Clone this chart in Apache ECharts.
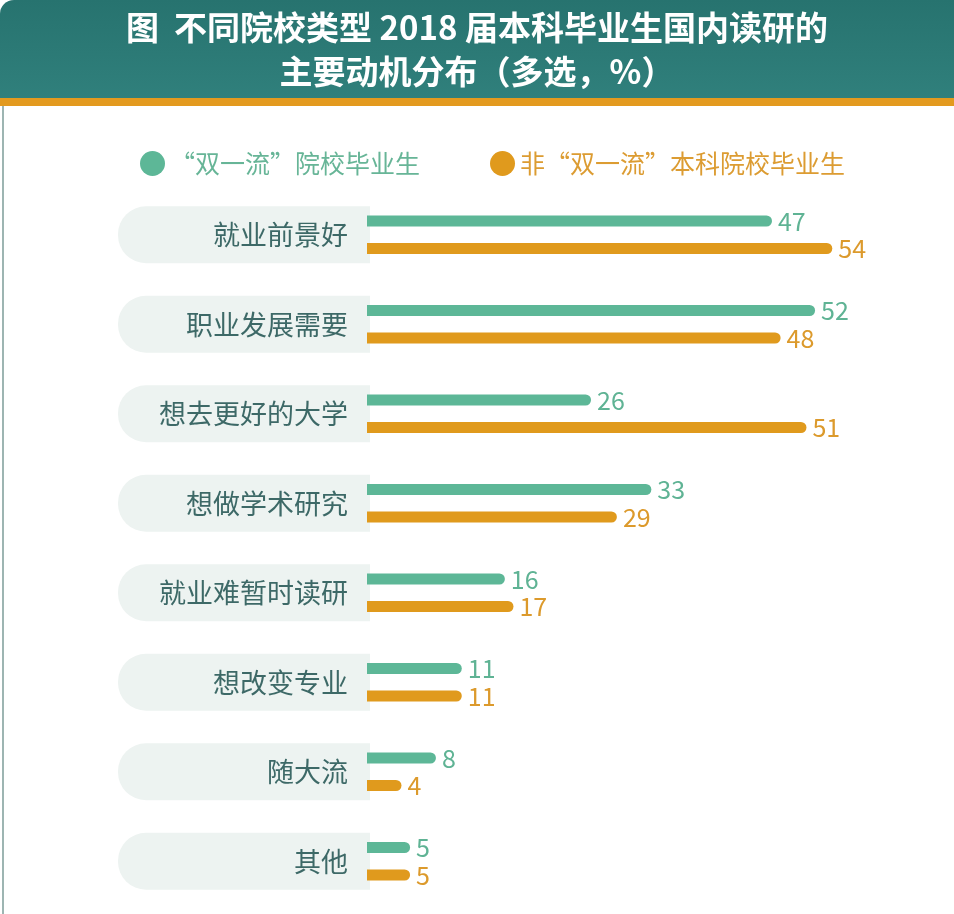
<!DOCTYPE html>
<html>
<head>
<meta charset="utf-8">
<script src="https://cdn.jsdelivr.net/npm/echarts@6/dist/echarts.min.js"></script>
<style>
html,body{margin:0;padding:0;background:#ffffff;}
#chart{width:954px;height:914px;}
</style>
</head>
<body>
<div id="chart"></div>
<script>
// ---- data ----
var categories = ['就业前景好','职业发展需要','想去更好的大学','想做学术研究','就业难暂时读研','想改变专业','随大流','其他'];
var seriesNames = ['“双一流”院校毕业生','非“双一流”本科院校毕业生'];
var shuangYiLiu = [47, 52, 26, 33, 16, 11, 8, 5];
var feiShuangYiLiu = [54, 48, 51, 29, 17, 11, 4, 5];
var titleLines = ['图  不同院校类型 2018 届本科毕业生国内读研的', '主要动机分布（多选，%）'];

var FONT = '"Noto Sans CJK SC", "Noto Sans", sans-serif';
var GREEN = '#5db797';
var ORANGE = '#e09a1d';

var chart = echarts.init(document.getElementById('chart'), null, {renderer:'canvas'});
chart.setOption({
  backgroundColor: '#ffffff',
  animation: false,
  graphic: [
    { type:'rect', z:-10, shape:{x:0,y:0,width:954,height:99,r:[14,0,0,0]},
      style:{fill:new echarts.graphic.LinearGradient(0,0,0,1,[{offset:0,color:'#27736f'},{offset:1,color:'#30807c'}])} },
    { type:'rect', z:-9, shape:{x:0,y:98,width:954,height:8}, style:{fill:'#e39a1f'} },
    { type:'rect', z:-9, shape:{x:2,y:106,width:2,height:808}, style:{fill:'#9db5b2'} }
  ],
  title: {
    text: titleLines.join('\n'),
    left: 'center',
    top: 5,
    padding: 0,
    textStyle: { color:'#ffffff', fontSize:33, fontWeight:'bold', fontFamily:FONT, lineHeight:44 }
  },
  legend: {
    left: 135, top: 146,
    icon: 'circle',
    itemWidth: 25, itemHeight: 25,
    itemGap: 70,
    data: [
      { name: seriesNames[0], textStyle:{color:'#67b597'} },
      { name: seriesNames[1], textStyle:{color:'#dc9c32'} }
    ],
    textStyle: { fontSize:25, fontFamily:FONT }
  },
  grid: { left: 367, right: 70, top: 190, bottom: 8, containLabel:false },
  xAxis: { type:'value', min:0, max:60, show:false },
  yAxis: {
    type:'category', inverse:true, data:categories,
    axisLine:{show:false}, axisTick:{show:false},
    axisLabel:{
      margin:-3,
      color:'#3d6967', fontSize:27, fontFamily:FONT,
      align:'right', verticalAlign:'middle',
      width:230, height:57, lineHeight:57,
      padding:[0,22,0,0],
      backgroundColor:'#edf3f1',
      borderRadius:[28,0,0,28],
      overflow:'none'
    }
  },
  series: [
    { name:seriesNames[0], type:'bar', data:shuangYiLiu, barWidth:11, barGap:'150%',
      itemStyle:{color:GREEN, borderRadius:[0,6,6,0]},
      label:{show:true, position:'right', distance:6, color:'#5fb394', fontSize:25, fontFamily:FONT} },
    { name:seriesNames[1], type:'bar', data:feiShuangYiLiu, barWidth:11, barGap:'150%',
      itemStyle:{color:ORANGE, borderRadius:[0,6,6,0]},
      label:{show:true, position:'right', distance:6, color:'#dc9a2c', fontSize:25, fontFamily:FONT} }
  ]
});
</script>
</body>
</html>
